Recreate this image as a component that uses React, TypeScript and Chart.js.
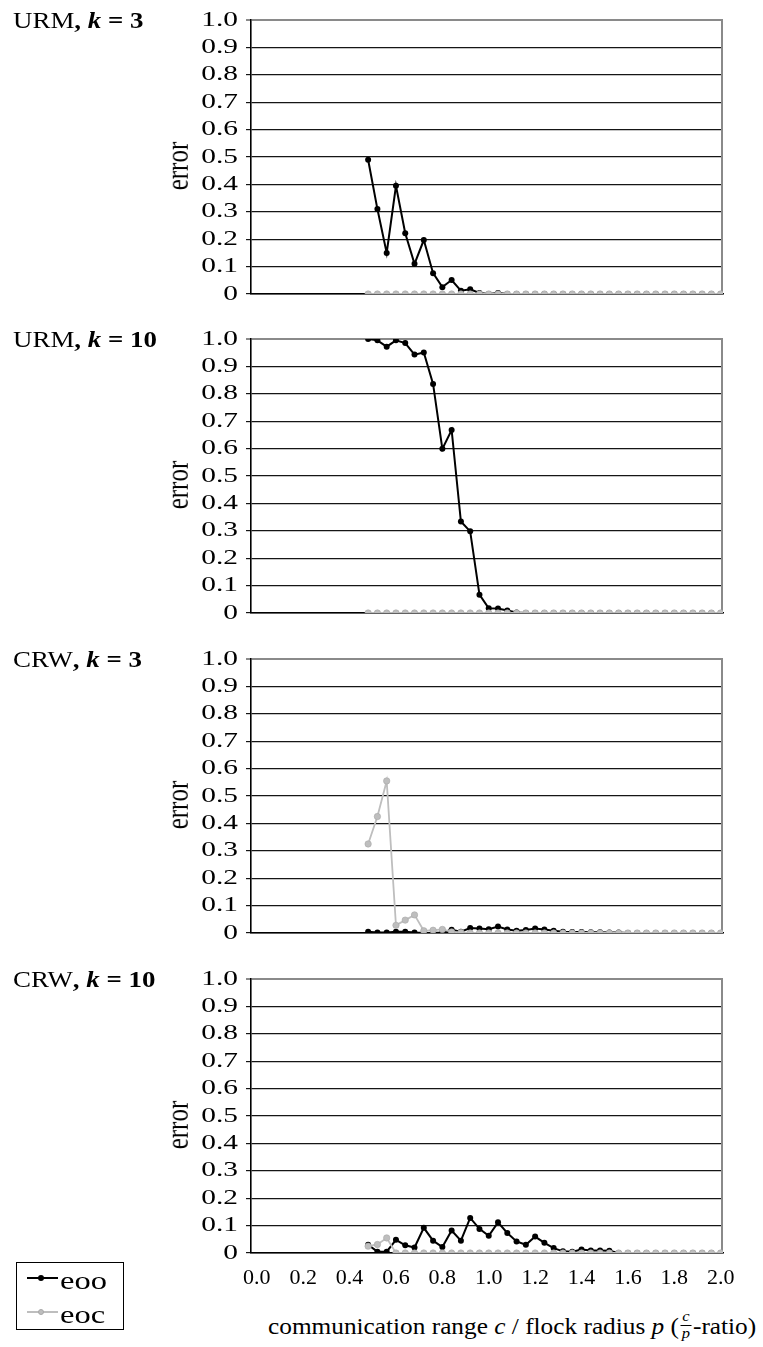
import React, { useEffect, useRef } from 'react';
import { Chart, registerables } from 'chart.js';

Chart.register(...registerables);

// ---- data ----
const xValues = [0.48, 0.52, 0.56, 0.60, 0.64, 0.68, 0.72, 0.76, 0.80, 0.84, 0.88, 0.92, 0.96, 1.00, 1.04, 1.08, 1.12, 1.16, 1.20, 1.24, 1.28, 1.32, 1.36, 1.40, 1.44, 1.48, 1.52, 1.56, 1.60, 1.64, 1.68, 1.72, 1.76, 1.80, 1.84, 1.88, 1.92, 1.96, 2.00];

const xTickLabels = ['0.0', '0.2', '0.4', '0.6', '0.8', '1.0', '1.2', '1.4', '1.6', '1.8', '2.0'];
const yTickLabels = ['0', '0.1', '0.2', '0.3', '0.4', '0.5', '0.6', '0.7', '0.8', '0.9', '1.0'];

const panelModels = ['URM', 'URM', 'CRW', 'CRW'];
const panelK = ['3', '10', '3', '10'];
const seriesNames = ['eoo', 'eoc'];

const urm3Eoo = [0.49, 0.31, 0.15, 0.395, 0.222, 0.11, 0.197, 0.076, 0.025, 0.051, 0.012, 0.017, 0.004, 0, 0.004, 0, 0, 0, 0, 0, 0, 0, 0, 0, 0, 0, 0, 0, 0, 0, 0, 0, 0, 0, 0, 0, 0, 0, 0];
const urm3Eoc = [0, 0, 0, 0, 0, 0, 0, 0, 0, 0, 0, 0, 0, 0, 0, 0, 0, 0, 0, 0, 0, 0, 0, 0, 0, 0, 0, 0, 0, 0, 0, 0, 0, 0, 0, 0, 0, 0, 0];

const urm10Eoo = [1.0, 0.995, 0.972, 0.995, 0.985, 0.943, 0.951, 0.836, 0.599, 0.668, 0.334, 0.298, 0.067, 0.017, 0.016, 0.009, 0.002, 0, 0, 0, 0, 0, 0, 0, 0, 0, 0, 0, 0, 0, 0, 0, 0, 0, 0, 0, 0, 0, 0];
const urm10Eoc = [0, 0, 0, 0, 0, 0, 0, 0, 0, 0, 0, 0, 0, 0, 0, 0, 0, 0, 0, 0, 0, 0, 0, 0, 0, 0, 0, 0, 0, 0, 0, 0, 0, 0, 0, 0, 0, 0, 0];

const crw3Eoo = [0.005, 0.002, 0.002, 0.005, 0.005, 0.002, 0, 0, 0.002, 0.012, 0.005, 0.018, 0.016, 0.014, 0.024, 0.013, 0.008, 0.011, 0.016, 0.013, 0.008, 0.005, 0.004, 0.004, 0.003, 0.003, 0.002, 0.002, 0, 0, 0, 0, 0, 0, 0, 0, 0, 0, 0];
const crw3Eoc = [0.325, 0.425, 0.555, 0.028, 0.047, 0.066, 0.008, 0.010, 0.013, 0.004, 0.002, 0, 0, 0, 0, 0, 0, 0, 0, 0, 0, 0, 0, 0, 0, 0, 0, 0, 0, 0, 0, 0, 0, 0, 0, 0, 0, 0, 0];

const crw10Eoo = [0.03, 0.005, 0.005, 0.048, 0.028, 0.02, 0.092, 0.045, 0.022, 0.082, 0.045, 0.128, 0.088, 0.063, 0.112, 0.073, 0.042, 0.03, 0.06, 0.037, 0.018, 0.006, 0.005, 0.013, 0.009, 0.009, 0.008, 0, 0, 0, 0, 0, 0, 0, 0, 0, 0, 0, 0];
const crw10Eoc = [0.025, 0.031, 0.055, 0, 0, 0, 0, 0, 0, 0, 0, 0, 0, 0, 0, 0, 0, 0, 0, 0, 0, 0, 0, 0, 0, 0, 0, 0, 0, 0, 0, 0, 0, 0, 0, 0, 0, 0, 0];

const panelEoo = [urm3Eoo, urm10Eoo, crw3Eoo, crw10Eoo];
const panelEoc = [urm3Eoc, urm10Eoc, crw3Eoc, crw10Eoc];

// ---- layout / style ----
const SERIF = '"Liberation Serif", "Times New Roman", serif';
const PANEL_TOPS = [20, 339, 659, 979];
const PLOT_H = 274;
const PAD = 20;
const AXIS_LEFT = 251;
const PLOT_RIGHT = 723;
const W = 763;
const BLACK = '#000000';
const GRAY = '#bebebe';

const yLabelPlugin = {
  id: 'stretchedYLabels',
  afterDraw(chart: any) {
    const s = chart.scales.y;
    const ctx = chart.ctx;
    ctx.save();
    ctx.font = '21px ' + SERIF;
    ctx.fillStyle = '#000';
    ctx.textAlign = 'right';
    ctx.textBaseline = 'middle';
    s.ticks.forEach((t: any, i: number) => {
      const y = s.getPixelForValue(t.value);
      ctx.save();
      ctx.translate(238, y);
      ctx.scale(1.4, 1);
      ctx.fillText(yTickLabels[i], 0, 0);
      ctx.restore();
    });
    ctx.restore();
  },
};

const rightBorderPlugin = {
  id: 'rightBorder',
  beforeDatasetsDraw(chart: any) {
    const { right, top, bottom } = chart.chartArea;
    const ctx = chart.ctx;
    ctx.save();
    ctx.strokeStyle = '#8a8a8a';
    ctx.lineWidth = 2;
    ctx.beginPath();
    ctx.moveTo(right - 1, top - 1);
    ctx.lineTo(right - 1, bottom);
    ctx.stroke();
    ctx.restore();
  },
};

function Panel({ idx }: { idx: number }) {
  const ref = useRef<HTMLCanvasElement | null>(null);
  const showX = idx === 3;
  const canvasH = showX ? PLOT_H + PAD + 46 : PLOT_H + 2 * PAD;

  useEffect(() => {
    if (!ref.current) return;
    const eoo = panelEoo[idx];
    const eoc = panelEoc[idx];
    const chart = new Chart(ref.current, {
      type: 'line',
      data: {
        datasets: [
          {
            label: seriesNames[0],
            data: xValues.map((x, i) => ({ x, y: eoo[i] })),
            borderColor: BLACK,
            backgroundColor: BLACK,
            borderWidth: 2,
            pointRadius: 3,
            pointBorderWidth: 0,
            pointBackgroundColor: BLACK,
            tension: 0,
            order: 1,
          },
          {
            label: seriesNames[1],
            data: xValues.map((x, i) => ({ x, y: eoc[i] })),
            borderColor: GRAY,
            backgroundColor: GRAY,
            borderWidth: 1.8,
            pointRadius: 3.2,
            pointBorderWidth: 0.6,
            pointBorderColor: '#a8a8a8',
            pointBackgroundColor: GRAY,
            tension: 0,
            order: 0,
          },
        ],
      },
      options: {
        animation: false,
        responsive: false,
        maintainAspectRatio: false,
        events: [],
        layout: { padding: { top: PAD, bottom: showX ? 0 : PAD, left: 0, right: W - PLOT_RIGHT } },
        plugins: { legend: { display: false }, tooltip: { enabled: false }, title: { display: false } },
        scales: {
          x: {
            type: 'linear',
            min: -0.025,
            max: 2.01,
            grid: { display: false, drawTicks: false },
            border: { display: true, color: BLACK, width: 1.5 },
            ticks: {
              display: showX,
              stepSize: 0.2,
              includeBounds: false,
              autoSkip: false,
              maxRotation: 0,
              padding: 12,
              color: '#000',
              font: { family: SERIF, size: 22 },
              callback: (_v: any, i: number) => xTickLabels[i],
            },
            afterFit: (s: any) => {
              s.height = showX ? 46 : 0;
            },
          },
          y: {
            type: 'linear',
            min: 0,
            max: 1,
            grid: {
              color: (c: any) => (c.tick && Math.abs(c.tick.value - 1) < 1e-6 ? '#8a8a8a' : '#151515'),
              lineWidth: (c: any) => (c.tick && Math.abs(c.tick.value - 1) < 1e-6 ? 2 : 1.2),
              tickLength: 5,
              drawTicks: true,
            },
            border: { display: true, color: BLACK, width: 1.6 },
            ticks: { display: false, stepSize: 0.1, includeBounds: false },
            afterFit: (s: any) => {
              s.width = AXIS_LEFT;
            },
          },
        },
      } as any,
      plugins: [yLabelPlugin, rightBorderPlugin],
    });
    return () => chart.destroy();
  }, [idx]);

  const top = PANEL_TOPS[idx];
  return (
    <>
      <canvas
        ref={ref}
        width={W}
        height={canvasH}
        style={{ position: 'absolute', left: 0, top: top - PAD, width: W, height: canvasH }}
      />
      <div
        style={{
          position: 'absolute',
          left: 13,
          top: top - 11,
          fontFamily: SERIF,
          fontSize: 23,
          lineHeight: 1,
          whiteSpace: 'nowrap',
          transform: 'scaleX(1.17)',
          transformOrigin: 'left center',
          color: '#000',
        }}
      >
        {panelModels[idx]}
        <b>
          , <i>k</i> = {panelK[idx]}
        </b>
      </div>
      <div
        style={{
          position: 'absolute',
          left: 177 - 40,
          top: top + 146 - 12,
          width: 80,
          height: 24,
          textAlign: 'center',
          fontFamily: SERIF,
          fontSize: 25,
          lineHeight: '24px',
          whiteSpace: 'nowrap',
          transform: 'scaleX(1.3) rotate(-90deg)',
          transformOrigin: 'center center',
          color: '#000',
        }}
      >
        error
      </div>
    </>
  );
}

function LegendRow({ color, label, y, dark }: { color: string; label: string; y: number; dark: boolean }) {
  return (
    <>
      <div style={{ position: 'absolute', left: 27, top: y - 1, width: 31, height: 2, background: color }} />
      <div
        style={{
          position: 'absolute',
          left: 41 - 3,
          top: y - 3,
          width: 6,
          height: 6,
          borderRadius: 3,
          background: color,
          boxSizing: 'border-box',
          border: dark ? 'none' : '0.6px solid #a8a8a8',
        }}
      />
      <div
        style={{
          position: 'absolute',
          left: 60,
          top: y - 10,
          fontFamily: SERIF,
          fontSize: 25,
          lineHeight: 1,
          transform: 'scaleX(1.3)',
          transformOrigin: 'left center',
          color: '#000',
        }}
      >
        {label}
      </div>
    </>
  );
}

export default function App() {
  return (
    <div style={{ position: 'absolute', left: 0, top: 0, width: 763, height: 1347, background: '#fff', overflow: 'hidden' }}>
      {[0, 1, 2, 3].map((i) => (
        <Panel key={i} idx={i} />
      ))}
      <div
        style={{
          position: 'absolute',
          left: 16,
          top: 1262,
          width: 108,
          height: 68,
          border: '1px solid #000',
          boxSizing: 'border-box',
        }}
      />
      <LegendRow color={BLACK} label={seriesNames[0]} y={1278} dark={true} />
      <LegendRow color={GRAY} label={seriesNames[1]} y={1312} dark={false} />
      <div
        style={{
          position: 'absolute',
          left: 268,
          top: 1309,
          fontFamily: SERIF,
          fontSize: 23,
          lineHeight: 1,
          whiteSpace: 'nowrap',
          transform: 'scaleX(1.1)',
          transformOrigin: 'left center',
          color: '#000',
        }}
      >
        communication range <i>c</i> / flock radius <i>p</i> (
        <span
          style={{
            display: 'inline-flex',
            flexDirection: 'column',
            alignItems: 'center',
            verticalAlign: '13px',
            fontSize: 15,
            lineHeight: 1,
            margin: '0 1px',
          }}
        >
          <span style={{ fontStyle: 'italic', borderBottom: '1px solid #000', padding: '0 2px 1px' }}>c</span>
          <span style={{ fontStyle: 'italic' }}>p</span>
        </span>
        -ratio)
      </div>
    </div>
  );
}
